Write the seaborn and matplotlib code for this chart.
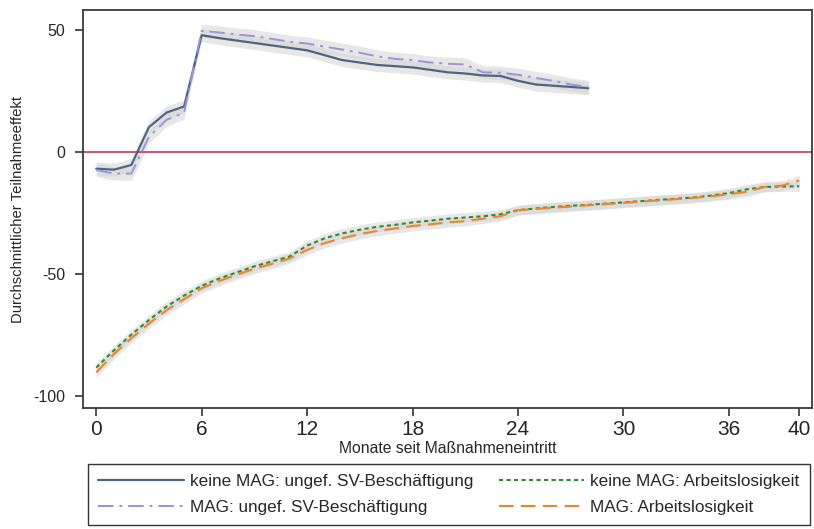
import numpy as np
import pandas as pd
import matplotlib
matplotlib.use("Agg")
import matplotlib.pyplot as plt
import seaborn as sns

sns.set_style("ticks")
plt.rcParams["font.family"] = ["Liberation Sans", "DejaVu Sans"]
plt.rcParams["axes.unicode_minus"] = False

# ─── DATA ─────────────────────────────────────────────────────
months_sv = list(range(0, 29))
months_al = list(range(0, 41))

# keine MAG: ungef. SV-Beschäftigung
sv_keine = [-7, -7.4, -5.5, 10, 16, 18.5, 47.7, 46.5, 45.5, 44.5, 43.5, 42.5, 41.5,
            39.5, 37.5, 36.5, 35.5, 35, 34.5, 33.5, 32.5, 32, 31.2, 31, 29, 27.5,
            27, 26.5, 26]
# MAG: ungef. SV-Beschäftigung
sv_mag = [-7.5, -9, -9, 6, 13, 16, 49.5, 48.8, 48, 47.3, 46.2, 45, 44.3, 43,
          41.8, 40.5, 39, 38, 37.5, 36.5, 36, 35.7, 32.5, 32.3, 31.5, 30.2,
          29, 27.5, 26.5]
# keine MAG: Arbeitslosigkeit
al_keine = [-88.5, -81.5, -75, -69, -63.5, -59, -55, -52, -49.5, -47, -45, -43,
            -38.5, -35.5, -33.5, -32, -30.8, -30, -29, -28.3, -27.5, -27, -26.5,
            -25.7, -24, -23.3, -22.7, -22.2, -21.8, -21.3, -20.8, -20.3, -19.8,
            -19.3, -18.8, -18, -17, -15.5, -14.5, -14.3, -14.2]
# MAG: Arbeitslosigkeit
al_mag = [-90.5, -83, -76.5, -70.5, -65, -60.5, -56, -53, -50.5, -48, -46, -43.8,
          -40.3, -37.5, -35.5, -33.8, -32.5, -31.5, -30.5, -29.8, -29, -28.5,
          -27.5, -26.5, -24, -23.5, -23, -22.5, -22, -21.5, -21, -20.5, -20,
          -19.5, -19, -18.3, -17.5, -16.5, -14.5, -14, -11.8]

ci_half = [2.7, 2.7, 2.0, 2.0]  # half-width of the grey confidence bands

labels = ["keine MAG: ungef. SV-Beschäftigung", "MAG: ungef. SV-Beschäftigung",
          "keine MAG: Arbeitslosigkeit", "MAG: Arbeitslosigkeit"]
colors = ["#4c6682", "#9d92dc", "#2f8a35", "#ec8626"]
dashes = [(None, None), (8, 3, 1.5, 3), (2, 1.6), (7, 3.5)]
widths = [1.6, 1.4, 1.5, 1.5]

series = [(months_sv, sv_keine), (months_sv, sv_mag),
          (months_al, al_keine), (months_al, al_mag)]

# ─── PLOT ─────────────────────────────────────────────────────
fig = plt.figure(figsize=(8.14, 5.29), dpi=100)
ax = fig.add_axes([0.102, 0.229, 0.895, 0.752])

for (x, y), h in zip(series, ci_half):
    y = np.asarray(y, dtype=float)
    ax.fill_between(x, y - h, y + h, color="#d4d4d4", alpha=0.55, linewidth=0)

handles = []
for (x, y), lab, col, ds, lw in zip(series, labels, colors, dashes, widths):
    df = pd.DataFrame({"Monat": x, "Effekt": y})
    sns.lineplot(data=df, x="Monat", y="Effekt", ax=ax, color=col, linewidth=lw,
                 label=lab, legend=False)
    line = ax.get_lines()[-1]
    if ds[0] is not None:
        line.set_dashes(ds)
    handles.append(line)

ax.axhline(0, color="#d8405e", linewidth=1.3, zorder=1)

ax.set_xlim(-0.75, 40.7)
ax.set_ylim(-105, 58)
ax.set_xticks([0, 6, 12, 18, 24, 30, 36, 40])
ax.set_yticks([50, 0, -50, -100])
ax.tick_params(axis="x", labelsize=15, direction="out", length=6, width=1.2,
               color="#333333", pad=3)
ax.tick_params(axis="y", labelsize=11.5, direction="out", length=6, width=1.2,
               color="#333333", pad=7)
for sp in ax.spines.values():
    sp.set_color("#3a3a3a")
    sp.set_linewidth(1.3)

ax.set_xlabel("Monate seit Maßnahmeneintritt", fontsize=11.3, labelpad=1)
ax.set_ylabel("Durchschnittlicher Teilnahmeeffekt", fontsize=10.7, labelpad=6)

leg = fig.legend(handles=handles, labels=labels, ncol=2, mode="expand",
                 loc="lower left", bbox_to_anchor=(0.108, 0.008, 0.887, 0.118),
                 fontsize=12.3, frameon=True, fancybox=False, edgecolor="black",
                 handlelength=5.0, handletextpad=0.35, borderaxespad=0,
                 borderpad=0.6, labelspacing=0.6)
leg.get_frame().set_linewidth(1.0)

fig.savefig("out.png", dpi=100)
